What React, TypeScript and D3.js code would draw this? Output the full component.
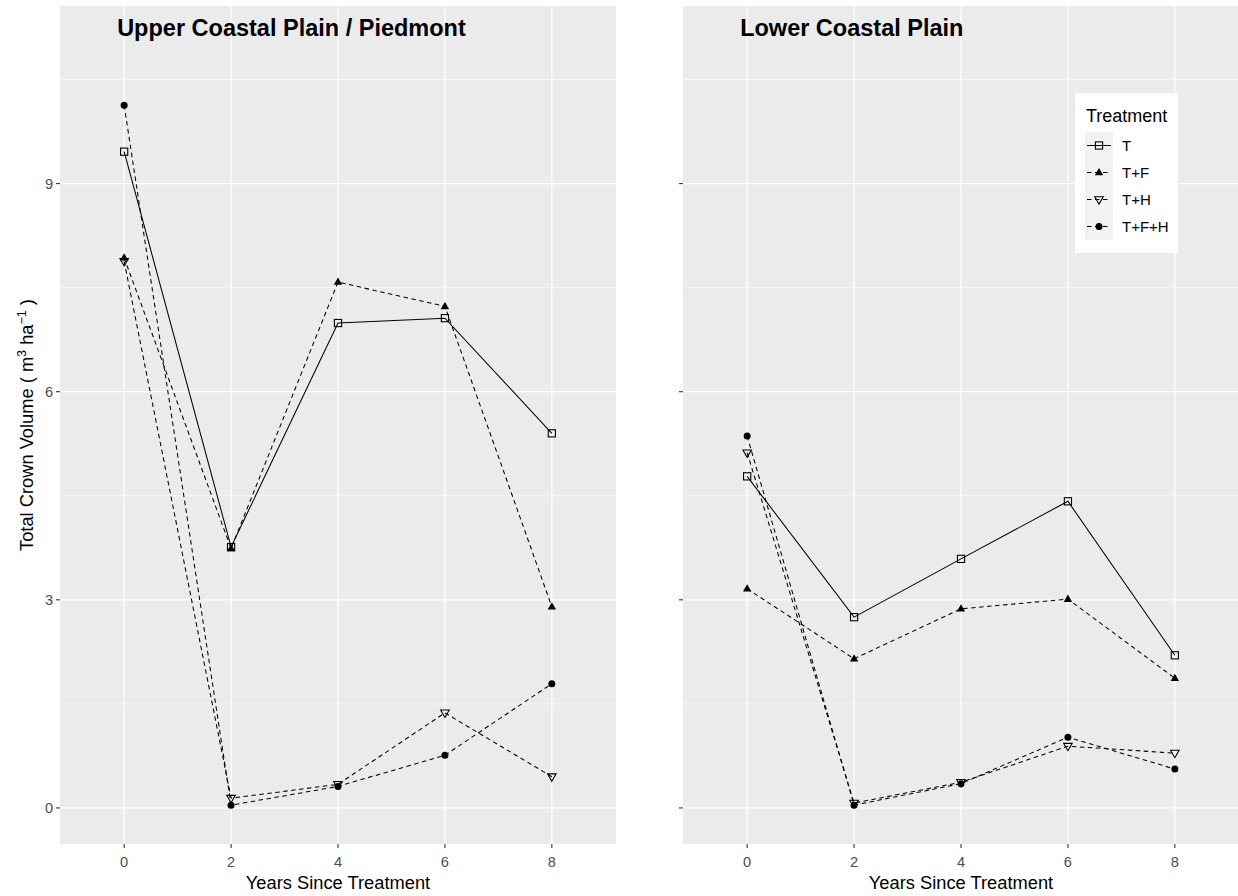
import React from "react";
import * as d3 from "d3";

const years = [0, 2, 4, 6, 8];
const treatments = ["T", "T+F", "T+H", "T+F+H"];
const yTicks = [0, 3, 6, 9];
const yMinor = [1.5, 4.5, 7.5, 10.5];

const upperT = [9.46, 3.76, 6.99, 7.06, 5.4];
const upperTF = [7.93, 3.74, 7.58, 7.23, 2.9];
const upperTH = [7.88, 0.14, 0.34, 1.37, 0.45];
const upperTFH = [10.13, 0.04, 0.31, 0.76, 1.79];

const lowerT = [4.78, 2.75, 3.59, 4.42, 2.2];
const lowerTF = [3.16, 2.15, 2.87, 3.01, 1.87];
const lowerTH = [5.12, 0.07, 0.37, 0.89, 0.79];
const lowerTFH = [5.36, 0.04, 0.35, 1.02, 0.56];

const panels = [
  { title: "Upper Coastal Plain / Piedmont", series: [upperT, upperTF, upperTH, upperTFH], left: 60, showLabels: true, legend: false },
  { title: "Lower Coastal Plain", series: [lowerT, lowerTF, lowerTH, lowerTFH], left: 683, showLabels: false, legend: true },
];

const PW = 556;
const TOP = 6;
const BOTTOM = 844;
const FONT = "'Liberation Sans', Arial, sans-serif";

const dashFor = (i: number) => (i === 0 ? undefined : "4.5,3.5");

function Marker({ i, x, y }: { i: number; x: number; y: number }) {
  if (i === 0) {
    return <rect x={x - 3.6} y={y - 3.6} width={7.2} height={7.2} fill="none" stroke="#000" strokeWidth={1.1} />;
  }
  if (i === 1) {
    const s = 8.4;
    const h = s * 0.866;
    return <path d={`M${x},${y - h * 0.62}L${x + s / 2},${y + h * 0.38}L${x - s / 2},${y + h * 0.38}Z`} fill="#000" />;
  }
  if (i === 2) {
    const s = 8.6;
    const h = s * 0.866;
    return <path d={`M${x},${y + h * 0.62}L${x + s / 2},${y - h * 0.38}L${x - s / 2},${y - h * 0.38}Z`} fill="none" stroke="#000" strokeWidth={1.05} />;
  }
  return <circle cx={x} cy={y} r={3.5} fill="#000" />;
}

function Panel({ p }: { p: (typeof panels)[number] }) {
  const x = d3.scalePoint<number>().domain(years).range([p.left, p.left + PW]).padding(0.6);
  const y = d3.scaleLinear().domain([-0.52, 11.56]).range([BOTTOM, TOP]);
  const line = d3
    .line<number>()
    .x((_, j) => x(years[j]) as number)
    .y((d) => y(d));
  return (
    <g>
      <rect x={p.left} y={TOP} width={PW} height={BOTTOM - TOP} fill="#EBEBEB" />
      {yMinor.map((v) => (
        <line key={"m" + v} x1={p.left} x2={p.left + PW} y1={y(v)} y2={y(v)} stroke="#fff" strokeWidth={0.6} />
      ))}
      {yTicks.map((v) => (
        <line key={"M" + v} x1={p.left} x2={p.left + PW} y1={y(v)} y2={y(v)} stroke="#fff" strokeWidth={1.2} />
      ))}
      {years.map((v) => (
        <line key={"v" + v} x1={x(v)} x2={x(v)} y1={TOP} y2={BOTTOM} stroke="#fff" strokeWidth={1.2} />
      ))}
      {/* y axis ticks */}
      {yTicks.map((v) => (
        <g key={"yt" + v}>
          <line x1={p.left - 4} x2={p.left} y1={y(v)} y2={y(v)} stroke="#333" strokeWidth={1.1} />
          {p.showLabels && (
            <text x={p.left - 7} y={y(v)} dy="0.36em" textAnchor="end" fontFamily={FONT} fontSize={14.6} fill="#4D4D4D">
              {v}
            </text>
          )}
        </g>
      ))}
      {/* x axis ticks */}
      {years.map((v) => (
        <g key={"xt" + v}>
          <line x1={x(v)} x2={x(v)} y1={BOTTOM} y2={BOTTOM + 4} stroke="#333" strokeWidth={1.1} />
          <text x={x(v)} y={867} textAnchor="middle" fontFamily={FONT} fontSize={14.6} fill="#4D4D4D">
            {v}
          </text>
        </g>
      ))}
      <text x={p.left + PW / 2} y={889} textAnchor="middle" fontFamily={FONT} fontSize={18.3} fill="#000">
        Years Since Treatment
      </text>
      {/* lines */}
      {p.series.map((s, i) => (
        <path key={"l" + i} d={line(s) as string} fill="none" stroke="#000" strokeWidth={1.05} strokeDasharray={dashFor(i)} />
      ))}
      {/* points */}
      {p.series.map((s, i) => (
        <g key={"p" + i}>
          {s.map((v, j) => (
            <Marker key={j} i={i} x={x(years[j]) as number} y={y(v)} />
          ))}
        </g>
      ))}
      <text x={(x(0) as number) - 7} y={36} fontFamily={FONT} fontWeight="bold" fontSize={23.5} fill="#000">
        {p.title}
      </text>
    </g>
  );
}

function Legend() {
  const bx = 1075;
  const by = 93;
  const keyX = 1085;
  const keyTop = 132;
  const keyH = 27;
  return (
    <g>
      <rect x={bx} y={by} width={103} height={160} fill="#fff" />
      <text x={1086} y={122} fontFamily={FONT} fontSize={18} fill="#000">
        Treatment
      </text>
      {treatments.map((t, i) => {
        const cy = keyTop + i * keyH + keyH / 2;
        return (
          <g key={t}>
            <rect x={keyX} y={keyTop + i * keyH} width={28} height={keyH} fill="#F2F2F2" />
            <line x1={keyX + 2} x2={keyX + 26} y1={cy} y2={cy} stroke="#000" strokeWidth={1.05} strokeDasharray={dashFor(i)} />
            <Marker i={i} x={keyX + 14} y={cy} />
            <text x={1122} y={cy} dy="0.36em" fontFamily={FONT} fontSize={15} fill="#000">
              {t}
            </text>
          </g>
        );
      })}
    </g>
  );
}

export default function App() {
  return (
    <svg width={1238} height={896} style={{ position: "absolute", left: 0, top: 0, background: "#fff" }}>
      <rect x={0} y={0} width={1238} height={896} fill="#fff" />
      {panels.map((p) => (
        <Panel key={p.title} p={p} />
      ))}
      <Legend />
      <text transform={`translate(33,425) rotate(-90)`} textAnchor="middle" fontFamily={FONT} fontSize={18.3} fill="#000">
        <tspan>Total Crown Volume ( m</tspan>
        <tspan dy={-7} fontSize={12.5}>3</tspan>
        <tspan dy={7}> ha</tspan>
        <tspan dy={-7} fontSize={12.5}>−1</tspan>
        <tspan dy={7}> )</tspan>
      </text>
    </svg>
  );
}
